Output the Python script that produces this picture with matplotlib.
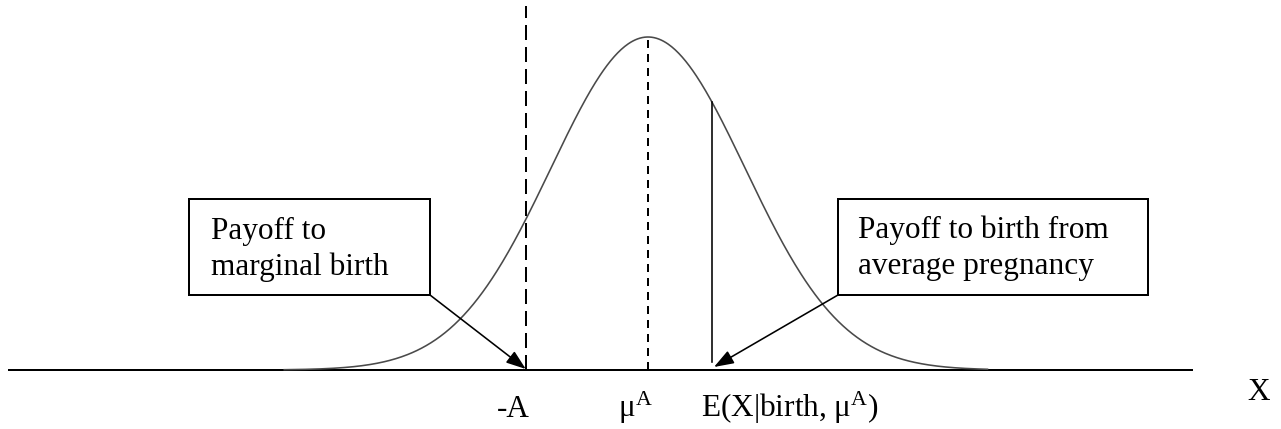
import numpy as np
import matplotlib
matplotlib.use("Agg")
import matplotlib.pyplot as plt
from matplotlib.patches import Rectangle, FancyArrowPatch

plt.rcParams['font.family'] = ['Liberation Serif', 'DejaVu Serif']
plt.rcParams['mathtext.fontset'] = 'custom'
plt.rcParams['mathtext.rm'] = 'Liberation Serif'
plt.rcParams['mathtext.it'] = 'Liberation Serif:italic'
plt.rcParams['lines.scale_dashes'] = False

# ---- data (in standard-deviation units, mean = 0) ----
mu = 0.0
sigma = 1.0
minus_A = -1.26          # marginal birth threshold
e_birth = 0.66           # E(X | birth, mu^A)
curve_range = [-3.75, 3.50]
axis_range = [-6.60, 5.62]
tick_labels = ['-A', r'$\mathrm{μ}^{\mathrm{A}}$', r'E(X|birth, $\mathrm{μ}^{\mathrm{A}}$)']
box_left_text = ['Payoff to', 'marginal birth']
box_right_text = ['Payoff to birth from', 'average pregnancy']
axis_label = 'X'

# ---- layout helpers (pixel -> data) ----
W, H = 1281, 429
PX_X0, PX_SX = 648.0, 97.0     # mean position / px per sigma
PX_Y0, PX_SY = 370.0, 333.0    # baseline / px for peak height

def dx(p):
    return (p - PX_X0) / PX_SX

def dy(p):
    return (PX_Y0 - p) / PX_SY

fig = plt.figure(figsize=(W / 100, H / 100), dpi=100)
ax = fig.add_axes([0, 0, 1, 1])
ax.set_xlim(dx(0), dx(W))
ax.set_ylim(dy(H), dy(0))
ax.axis('off')

def pdf(x):
    return np.exp(-0.5 * ((x - mu) / sigma) ** 2)

PT = 0.72  # points per pixel

# baseline axis
ax.plot(axis_range, [0, 0], color='black', lw=2 * PT, solid_capstyle='butt')

# normal curve
xs = np.linspace(curve_range[0], curve_range[1], 600)
ax.plot(xs, pdf(xs), color='#4a4a4a', lw=1.6 * PT)

# -A dashed line
l1, = ax.plot([minus_A, minus_A], [0, dy(6)], color='black', lw=2 * PT)
l1.set_dashes([15 * PT, 7 * PT])

# mean dashed line
l2, = ax.plot([mu, mu], [0, pdf(mu)], color='black', lw=2 * PT)
l2.set_dashes([8 * PT, 6 * PT])

# E(X|birth) solid line
ax.plot([e_birth, e_birth], [dy(362), pdf(e_birth)], color='black', lw=1.6 * PT)

# boxes
def box(x0, y0, x1, y1):
    r = Rectangle((dx(x0), dy(y1)), dx(x1) - dx(x0), dy(y0) - dy(y1),
                  fill=True, facecolor='white', edgecolor='black', lw=2 * PT, zorder=3)
    ax.add_patch(r)

box(189, 199, 430, 295)
box(838, 199, 1148, 295)

FS = 22.5
ax.text(dx(211), dy(239), box_left_text[0], fontsize=FS, va='baseline', ha='left', zorder=4)
ax.text(dx(211), dy(275), box_left_text[1], fontsize=FS, va='baseline', ha='left', zorder=4)
ax.text(dx(858), dy(238), box_right_text[0], fontsize=FS, va='baseline', ha='left', zorder=4)
ax.text(dx(858), dy(274), box_right_text[1], fontsize=FS, va='baseline', ha='left', zorder=4)

# arrows
style = '-|>,head_length=12,head_width=4.3'
a1 = FancyArrowPatch((dx(430), dy(295)), (minus_A, dy(369)), arrowstyle=style,
                     mutation_scale=1, lw=1.6 * PT, color='black', shrinkA=0, shrinkB=0, zorder=5)
a2 = FancyArrowPatch((dx(838), dy(295)), (dx(714), dy(367)), arrowstyle=style,
                     mutation_scale=1, lw=1.6 * PT, color='black', shrinkA=0, shrinkB=0, zorder=5)
ax.add_patch(a1)
ax.add_patch(a2)

# tick labels below axis
ax.text(dx(497), dy(417), tick_labels[0], fontsize=FS, va='baseline', ha='left')
ax.text(dx(618), dy(417), tick_labels[1], fontsize=FS, va='baseline', ha='left')
ax.text(dx(701), dy(417), tick_labels[2], fontsize=FS, va='baseline', ha='left')
ax.text(dx(1247), dy(400), axis_label, fontsize=FS, va='baseline', ha='left')

fig.savefig('out.png', dpi=100)
